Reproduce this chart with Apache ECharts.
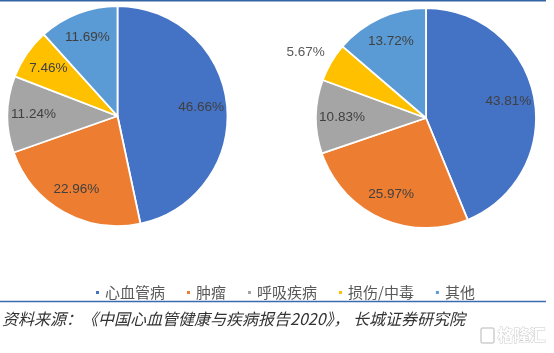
<!DOCTYPE html>
<html>
<head>
<meta charset="utf-8">
<script src="https://cdn.jsdelivr.net/npm/echarts@6/dist/echarts.min.js"></script>
<style>
html,body{margin:0;padding:0;background:#fff;}
#chart{width:554px;height:353px;}
</style>
</head>
<body>
<div id="chart"></div>
<script>
const categories = ['心血管病', '肿瘤', '呼吸疾病', '损伤/中毒', '其他'];
const leftValues = [46.66, 22.96, 11.24, 7.46, 11.69];
const rightValues = [43.81, 25.97, 10.83, 5.67, 13.72];
const colors = ['#4472C4', '#ED7D31', '#A5A5A5', '#FFC000', '#5B9BD5'];
const sourceText = '资料来源：　《中国心血管健康与疾病报告2020》， 长城证券研究院';

const labelFont = 'Liberation Sans, Arial, sans-serif';

function mainPie(values, center) {
  return {
    type: 'pie',
    center: center,
    radius: [0, 110],
    startAngle: 90,
    clockwise: true,
    avoidLabelOverlap: false,
    label: { show: false },
    labelLine: { show: false },
    itemStyle: { borderColor: '#ffffff', borderWidth: 1.8 },
    emphasis: { disabled: true },
    data: categories.map((n, i) => ({ name: n, value: values[i] }))
  };
}

function labelPie(values, center, outsideIdx) {
  return {
    type: 'pie',
    center: center,
    radius: [52, 110],
    startAngle: 90,
    clockwise: true,
    silent: true,
    avoidLabelOverlap: false,
    itemStyle: { color: 'rgba(0,0,0,0)', borderWidth: 0 },
    emphasis: { disabled: true },
    label: {
      show: true,
      position: 'inside',
      formatter: '{c}%',
      color: '#404040',
      fontSize: 13.5,
      fontFamily: labelFont
    },
    labelLine: { show: false },
    data: categories.map((n, i) => {
      const d = { name: n, value: values[i] };
      if (i === outsideIdx) {
        d.label = { position: 'outside', color: '#595959', distanceToLabelLine: -11 };
        d.labelLine = { show: false, length: 20, length2: 0 };
      }
      return d;
    })
  };
}

const chart = echarts.init(document.getElementById('chart'), null, { renderer: 'canvas' });
chart.setOption({
  animation: false,
  color: colors,
  legend: {
    data: categories,
    left: 89,
    top: 280,
    icon: 'rect',
    itemWidth: 5,
    itemHeight: 5,
    itemGap: 20,
    selectedMode: false,
    textStyle: { fontSize: 15, color: '#595959', fontFamily: 'Noto Sans CJK SC' }
  },
  graphic: [
    { type: 'line', shape: { x1: 0, y1: 0.75, x2: 546, y2: 0.75 }, style: { stroke: '#3465A4', lineWidth: 1.5 } },
    { type: 'line', shape: { x1: 0, y1: 301.5, x2: 546, y2: 301.5 }, style: { stroke: '#3A6BB0', lineWidth: 1.5 } },
    { type: 'text', left: 2, top: 311, style: { text: sourceText, font: 'italic 16px "Noto Sans CJK SC"', fill: '#333333' } },
    { type: 'rect', shape: { x: 481, y: 328, width: 13, height: 15, r: 2 }, style: { fill: 'none', stroke: '#cfcfcf', lineWidth: 1.5 } },
    { type: 'text', left: 497, top: 326, style: { text: '格隆汇', font: 'bold 16px "Noto Sans CJK SC"', fill: '#ffffff', stroke: '#cccccc', lineWidth: 1 } }
  ],
  series: [
    mainPie(leftValues, [117.5, 116]),
    labelPie(leftValues, [117.5, 116], -1),
    mainPie(rightValues, [426, 118]),
    labelPie(rightValues, [426, 118], 3)
  ]
});
</script>
</body>
</html>
